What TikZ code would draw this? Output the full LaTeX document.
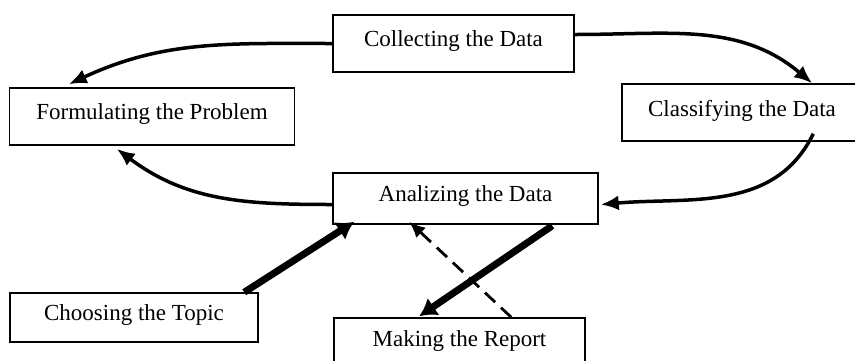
\documentclass[tikz,border=0pt]{standalone}
\usepackage{fontspec}
\setmainfont{Liberation Serif}
\usetikzlibrary{arrows.meta}

\begin{document}
\begin{tikzpicture}[x=1pt,y=1pt,
	box/.style={draw,line width=1.5pt,inner sep=0pt,text depth=9pt,font=\fontsize{23}{26}\selectfont},
	flow/.style={line width=3.5pt,-{Latex[length=18pt,width=15pt]}},
	heavy/.style={line width=7pt,-{Latex[length=17pt,width=21pt]}},
	back/.style={line width=2.8pt,dash pattern=on 14pt off 8pt,-{Latex[length=16pt,width=14pt]}}]

\useasboundingbox (0,0) rectangle (855,-360);

	\node [box,minimum width=241pt,minimum height=57pt,name=collect] at (453.5,-43.5) {Collecting the Data};
	\node [box,minimum width=285pt,minimum height=57pt,name=formul] at (152,-116.5) {Formulating the Problem};
	\node [box,minimum width=240pt,minimum height=57pt,name=classif] at (742,-112.5) {Classifying the Data};
	\node [box,minimum width=265pt,minimum height=51pt,name=analiz] at (465.5,-198.5) {Analizing the Data};
	\node [box,minimum width=248pt,minimum height=49pt,name=choose] at (134,-317.5) {Choosing the Topic};
	\node [box,minimum width=251pt,minimum height=50pt,name=making] at (459.5,-343) {Making the Report};

\draw [flow] (collect.west) to [out=180,in=25] ([xshift=60pt,yshift=3pt]formul.north west);
\draw [flow] ([yshift=9pt]collect.east) to [out=0,in=140] ([xshift=191pt]classif.north west);
\draw [flow] ([xshift=192pt,yshift=8pt]classif.south west) to [out=-116,in=5] ([xshift=2pt,yshift=-6pt]analiz.east);
\draw [flow] ([yshift=-6pt]analiz.west) to [out=180,in=-37] ([xshift=108pt,yshift=-3pt]formul.south west);

\draw [heavy] ([xshift=235pt]choose.north west) -- ([xshift=22pt,yshift=3pt]analiz.south west);
\draw [heavy] ([xshift=220pt,yshift=-1pt]analiz.south west) -- ([xshift=86pt,yshift=1pt]making.north west);
\draw [back] ([xshift=178pt]making.north west) -- ([xshift=77pt,yshift=3pt]analiz.south west);

\end{tikzpicture}
\end{document}
